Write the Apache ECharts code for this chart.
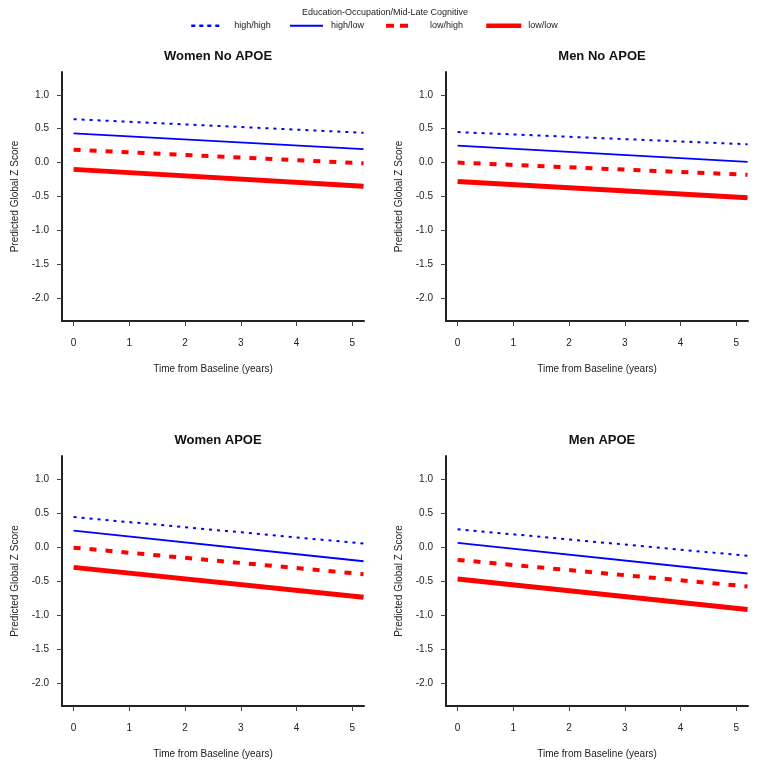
<!DOCTYPE html>
<html><head><meta charset="utf-8">
<script src="https://cdn.jsdelivr.net/npm/echarts@6/dist/echarts.min.js"></script>
<style>html,body{margin:0;padding:0;background:#fff}#c{width:764px;height:767px}</style>
</head><body><div id="c"></div>
<script>
// ---- data ----
const legendTitle = 'Education-Occupation/Mid-Late Cognitive';
const groupNames = ['high/high', 'high/low', 'low/high', 'low/low'];
const panelTitles = ['Women No APOE', 'Men No APOE', 'Women APOE', 'Men APOE'];
const timeYears = [0, 5.2];
const xTicks = [0, 1, 2, 3, 4, 5];
const yTicks = [-2.0, -1.5, -1.0, -0.5, 0.0, 0.5, 1.0];
// values at timeYears, order: high/high, high/low, low/high, low/low
const womenNoApoe = [[0.64, 0.44], [0.43, 0.20], [0.19, -0.01], [-0.10, -0.35]];
const menNoApoe   = [[0.45, 0.27], [0.25, 0.01], [0.00, -0.18], [-0.28, -0.52]];
const womenApoe   = [[0.44, 0.05], [0.24, -0.21], [-0.01, -0.40], [-0.30, -0.74]];
const menApoe     = [[0.26, -0.13], [0.06, -0.39], [-0.19, -0.58], [-0.47, -0.92]];
const panelData = [womenNoApoe, menNoApoe, womenApoe, menApoe];

// ---- styling ----
const FONT = '"Liberation Sans", Arial, Helvetica, sans-serif';
const BLUE = '#0000ff', RED = '#ff0000';
const lineStyles = [
  { color: BLUE, width: 2, type: [3, 5] },
  { color: BLUE, width: 1.8, type: 'solid' },
  { color: RED, width: 4, type: [7, 9] },
  { color: RED, width: 5, type: 'solid' }
];
const legendLineStyles = [
  { color: BLUE, width: 2.5, type: [4, 4] },
  { color: BLUE, width: 2, type: 'solid' },
  { color: RED, width: 4, type: [8, 6] },
  { color: RED, width: 4.5, type: 'solid' }
];
const grids = [
  { left: 62, top: 72, width: 302, height: 249 },
  { left: 446, top: 72, width: 302, height: 249 },
  { left: 62, top: 456, width: 302, height: 250 },
  { left: 446, top: 456, width: 302, height: 250 }
];

const option = {
  animation: false,
  backgroundColor: '#fff',
  textStyle: { fontFamily: FONT },
  title: [
    { text: legendTitle, left: 380, top: 3, textAlign: 'center',
      textStyle: { fontSize: 9, fontWeight: 'normal', color: '#222', fontFamily: FONT } }
  ].concat(panelTitles.map((t, i) => ({
    text: t,
    left: grids[i].left + grids[i].width / 2,
    top: grids[i].top - 27,
    textAlign: 'center',
    textStyle: { fontSize: 13, fontWeight: 'bold', color: '#111', fontFamily: FONT }
  }))),
  legend: groupNames.map((n, i) => ({
    data: [n],
    left: [190, 289, 384, 484][i],
    top: 21,
    padding: 0,
    itemWidth: [30, 33, 25, 35][i],
    itemHeight: 12,
    selectedMode: false,
    itemStyle: { opacity: 0 },
    lineStyle: legendLineStyles[i],
    textStyle: { fontSize: 9, color: '#222', fontFamily: FONT,
      padding: [0, 0, 0, [8, 3, 14, 2][i]] }
  })),
  grid: grids.map(g => Object.assign({ containLabel: false }, g)),
  xAxis: grids.map((g, i) => ({
    type: 'value', gridIndex: i, min: -0.208, max: 5.208,
    name: 'Time from Baseline (years)', nameLocation: 'middle', nameGap: 43,
    nameTextStyle: { fontSize: 10, color: '#222', fontFamily: FONT },
    axisLine: { show: true, onZero: false, lineStyle: { color: '#222', width: 2 } },
    axisTick: { show: true, customValues: xTicks, length: 5, lineStyle: { color: '#444', width: 1 } },
    axisLabel: { customValues: xTicks, margin: 17, fontSize: 10, color: '#222', fontFamily: FONT },
    splitLine: { show: false }
  })),
  yAxis: grids.map((g, i) => ({
    type: 'value', gridIndex: i, min: -2.336, max: 1.336,
    name: 'Predicted Global Z Score', nameLocation: 'middle', nameGap: 42,
    nameTextStyle: { fontSize: 10, color: '#222', fontFamily: FONT },
    axisLine: { show: true, onZero: false, lineStyle: { color: '#222', width: 2 } },
    axisTick: { show: true, customValues: yTicks, length: 5, lineStyle: { color: '#444', width: 1 } },
    axisLabel: { customValues: yTicks, margin: 13, fontSize: 10, color: '#222', fontFamily: FONT,
      formatter: v => v.toFixed(1) },
    splitLine: { show: false }
  })),
  series: []
};

panelData.forEach((panel, p) => {
  panel.forEach((vals, s) => {
    option.series.push({
      type: 'line',
      name: groupNames[s],
      xAxisIndex: p, yAxisIndex: p,
      data: timeYears.map((t, k) => [t, vals[k]]),
      symbol: 'none',
      lineStyle: lineStyles[s],
      itemStyle: { color: lineStyles[s].color },
      z: 10 - s,
      silent: true
    });
  });
});

const chart = echarts.init(document.getElementById('c'), null, { renderer: 'canvas' });
chart.setOption(option);
</script>
</body></html>
